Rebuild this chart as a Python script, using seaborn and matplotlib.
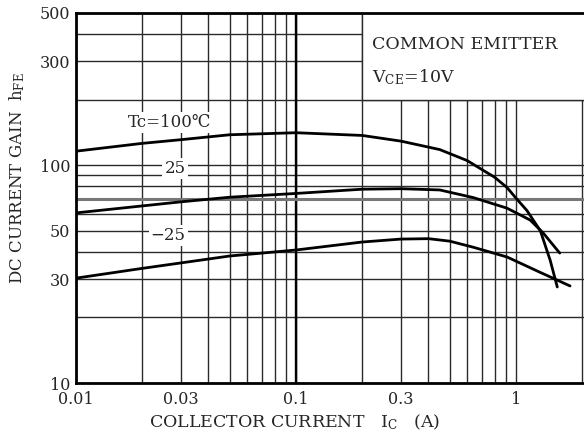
import matplotlib
matplotlib.use('Agg')
import matplotlib.pyplot as plt
from matplotlib.patches import Rectangle
import numpy as np
import pandas as pd
import seaborn as sns

# curves (Ic in A, hFE)
ic_100 = [0.01, 0.02, 0.03, 0.05, 0.1, 0.2, 0.3, 0.45, 0.6, 0.8, 0.91, 1.0, 1.12, 1.29, 1.43, 1.54]
hfe_100 = [116, 126, 131, 138, 141, 137, 129, 118, 105, 88, 79, 70.6, 62, 50, 36.6, 27.6]

ic_25 = [0.01, 0.03, 0.05, 0.1, 0.2, 0.3, 0.45, 0.64, 0.91, 1.16, 1.33, 1.58]
hfe_25 = [60.4, 67.9, 71.3, 74.2, 77.6, 78, 77, 71, 63.5, 56, 48.8, 39.5]

ic_m25 = [0.01, 0.02, 0.03, 0.05, 0.1, 0.2, 0.3, 0.4, 0.5, 0.64, 0.91, 1.28, 1.76]
hfe_m25 = [30.3, 33.6, 35.6, 38.3, 40.8, 44.4, 45.8, 46, 44.8, 42, 37.9, 32.3, 27.9]

curve_labels = ['Tc=100℃', '25', '−25']

x_ticks = [0.01, 0.03, 0.1, 0.3, 1]
x_ticklabels = ['0.01', '0.03', '0.1', '0.3', '1']
y_ticks = [10, 30, 50, 100, 300, 500]
y_ticklabels = ['10', '30', '50', '100', '300', '500']

df = pd.concat([
    pd.DataFrame({'ic': ic_100, 'hfe': hfe_100, 'tc': '100'}),
    pd.DataFrame({'ic': ic_25, 'hfe': hfe_25, 'tc': '25'}),
    pd.DataFrame({'ic': ic_m25, 'hfe': hfe_m25, 'tc': '-25'}),
])

sns.set_style('white')
plt.rcParams['font.family'] = ['DejaVu Serif']
plt.rcParams['mathtext.fontset'] = 'dejavuserif'

fig = plt.figure(figsize=(5.84, 4.37), dpi=100)
ax = fig.add_axes([76 / 584, 54 / 437, 508 / 584, 370 / 437])

xmax = 10 ** 0.309
ax.set_xscale('log')
ax.set_yscale('log')
ax.set_xlim(0.01, xmax)
ax.set_ylim(10, 500)

# grid: every 1-9 step in each decade
x_minor = [v for d in (0.01, 0.1, 1) for v in np.arange(2, 10) * d if v < xmax and v not in x_ticks]
y_minor = [v for d in (10, 100) for v in np.arange(2, 10) * d if v < 500 and v not in y_ticks]
ax.set_xticks(x_ticks)
ax.set_xticklabels(x_ticklabels)
ax.set_xticks(x_minor, minor=True)
ax.set_xticklabels([], minor=True)
ax.set_yticks(y_ticks)
ax.set_yticklabels(y_ticklabels)
ax.set_yticks(y_minor, minor=True)
ax.set_yticklabels([], minor=True)
ax.set_axisbelow(True)
ax.grid(which='both', color='#2a2a2a', lw=1.0)
ax.axvline(0.1, color='black', lw=1.7, zorder=0.6)
ax.axhline(70, color='#777777', lw=2.2, zorder=0.6)

# blank box for the test conditions
ax.add_patch(Rectangle((0.2, 200), xmax, 400, facecolor='white', edgecolor='#2a2a2a', lw=1.0, zorder=1))
ax.text(0.222, 358, 'COMMON EMITTER', fontsize=12.5, va='center', ha='left', zorder=3)
ax.text(0.222, 254, r'$\mathrm{V_{CE}}$=10V', fontsize=12.5, va='center', ha='left', zorder=3)

sns.lineplot(data=df, x='ic', y='hfe', hue='tc', palette=['black'] * 3,
             sort=False, estimator=None, lw=2.0, legend=False, ax=ax, zorder=2)

box = dict(facecolor='white', edgecolor='none', pad=1.5)
ax.text(0.0267, 157, curve_labels[0], fontsize=12, ha='center', va='center', bbox=box, zorder=3)
ax.text(0.0282, 97, curve_labels[1], fontsize=12, ha='center', va='center', bbox=box, zorder=3)
ax.text(0.0262, 47.7, curve_labels[2], fontsize=12, ha='center', va='center', bbox=box, zorder=3)

for s in ['left', 'bottom', 'top']:
    ax.spines[s].set_linewidth(2.0)
    ax.spines[s].set_color('black')
ax.spines['right'].set_visible(False)

ax.tick_params(which='both', length=0, labelsize=11.5)
ax.tick_params(axis='x', pad=6)
ax.tick_params(axis='y', pad=4)
ax.set_xlabel('')
ax.set_ylabel('')

fig.text(295 / 584, 1 - 422 / 437, r'COLLECTOR CURRENT   $\mathrm{I_C}$   (A)', fontsize=12.5,
         ha='center', va='center')
fig.text(17 / 584, 1 - 178 / 437, r'DC CURRENT GAIN  $\mathrm{h_{FE}}$', fontsize=12,
         ha='center', va='center', rotation=90)

fig.savefig('out.png', dpi=100)
